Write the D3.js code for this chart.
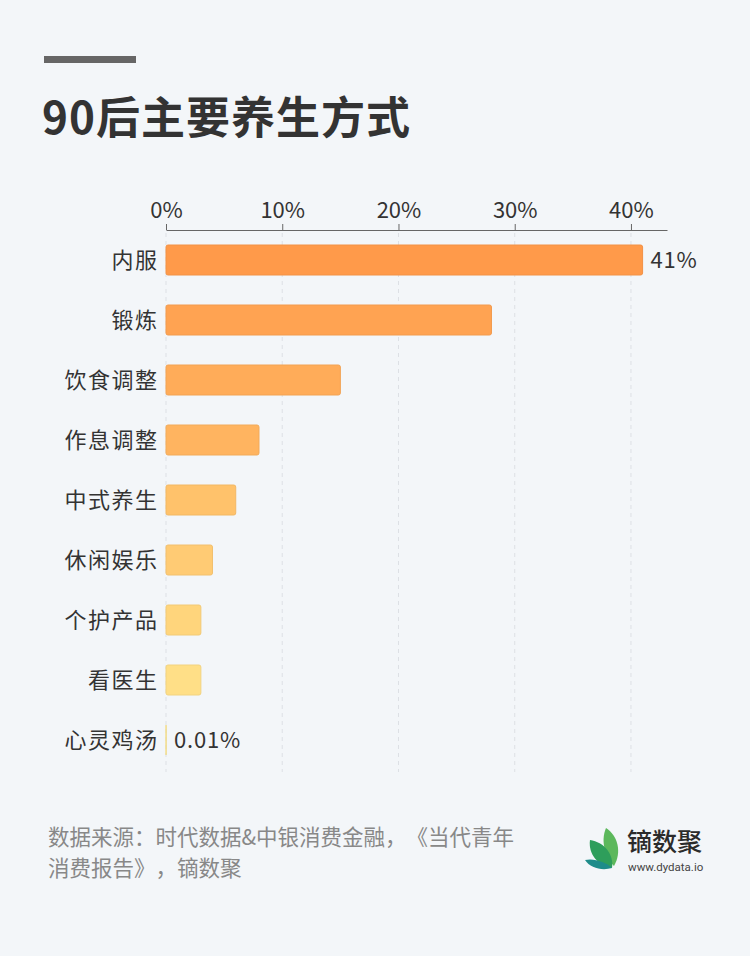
<!DOCTYPE html>
<html><head><meta charset="utf-8">
<script src="https://cdn.jsdelivr.net/npm/d3@7"></script>
<style>
html,body{margin:0;padding:0;background:#F3F6F9;}
svg{display:block;font-family:"Noto Sans CJK SC","Noto Sans",sans-serif;text-spacing-trim:space-all;}
</style></head>
<body>
<svg id="chart" width="750" height="956"></svg>
<script>
const categories = ["内服","锻炼","饮食调整","作息调整","中式养生","休闲娱乐","个护产品","看医生","心灵鸡汤"];
const values = [41, 28, 15, 8, 6, 4, 3, 3, 0.01];
const valueLabels = ["41%", "", "", "", "", "", "", "", "0.01%"];
const tickValues = [0, 10, 20, 30, 40];
const barColors = ["#FF9A4A","#FFA352","#FFAC59","#FFB460","#FFC26B","#FFCB74","#FFD57C","#FFDF87","#FFE890"];
const title = "90后主要养生方式";
const sourceLines = ["数据来源：时代数据&中银消费金融，《当代青年","消费报告》，镝数聚"];

const svg = d3.select("#chart");
svg.append("rect").attr("width",750).attr("height",956).attr("fill","#F3F6F9");

svg.append("rect").attr("x",44).attr("y",56).attr("width",92).attr("height",7).attr("fill","#666666");
svg.append("text").attr("x",42).attr("y",134).attr("font-size",44).attr("font-weight","bold")
  .attr("letter-spacing",1).attr("fill","#333333").text(title);

const x = d3.scaleLinear().domain([0, 43.1]).range([166, 667]);
const y = d3.scaleBand().domain(categories).range([230, 770]).paddingInner(0.5).paddingOuter(0.25);

// grid
svg.append("g").selectAll("line").data(tickValues).join("line")
  .attr("x1", d => x(d)).attr("x2", d => x(d))
  .attr("y1", 233).attr("y2", 772)
  .attr("stroke", "#DDE0E5").attr("stroke-width", 1).attr("stroke-dasharray", "4,4");

// axis
const axis = svg.append("g").attr("transform","translate(0,230)")
  .call(d3.axisTop(x).tickValues(tickValues).tickFormat(d => d + "%").tickSize(6).tickSizeOuter(0).tickPadding(6));
axis.select(".domain").attr("stroke","#666666");
axis.selectAll(".tick line").attr("stroke","#666666");
axis.selectAll(".tick text").attr("font-size",22).attr("fill","#333333")
  .attr("font-family",'"Noto Sans CJK SC","Noto Sans",sans-serif');

// bars
svg.append("g").selectAll("rect").data(categories).join("rect")
  .attr("x", x(0)).attr("y", d => y(d))
  .attr("width", (d,i) => Math.max(0, x(values[i]) - x(0)))
  .attr("height", y.bandwidth())
  .attr("rx", 2).attr("ry", 2)
  .attr("fill", (d,i) => barColors[i])
  .attr("stroke", (d,i) => d3.color(barColors[i]).darker(0.15))
  .attr("stroke-width", 1);

// category labels
svg.append("g").selectAll("text").data(categories).join("text")
  .attr("x", 158.5).attr("y", d => y(d) + y.bandwidth()/2)
  .attr("dy","0.35em").attr("text-anchor","end")
  .attr("font-size",22).attr("letter-spacing",1.5).attr("fill","#333333").text(d => d);

// value labels
svg.append("g").selectAll("text").data(categories).join("text")
  .attr("x", (d,i) => x(values[i]) + 8).attr("y", d => y(d) + y.bandwidth()/2)
  .attr("dy","0.35em").attr("font-size",22).attr("letter-spacing",0.8).attr("fill","#333333")
  .text((d,i) => valueLabels[i]);

// source
svg.append("g").selectAll("text").data(sourceLines).join("text")
  .attr("x", 48).attr("y", (d,i) => 845 + i*31)
  .attr("font-size",21.5).attr("fill","#888888").text(d => d);

// logo
const logo = svg.append("g").attr("transform","translate(584,826)");
logo.append("path").attr("d","M22,2 C34,10 38,26 30,40 C22,32 16,16 22,2 Z").attr("fill","#5CB85C");
logo.append("path").attr("d","M6,14 C20,16 30,28 28,42 C14,40 4,28 6,14 Z").attr("fill","#2E9E5B");
logo.append("path").attr("d","M1,34 C10,32 22,36 28,42 C18,45 6,42 1,34 Z").attr("fill","#1E8C8A");
svg.append("text").attr("x",627).attr("y",851).attr("font-size",25).attr("fill","#2B2B2B")
  .attr("font-weight","500").text("镝数聚");
svg.append("text").attr("x",628).attr("y",871).attr("font-size",11.5).attr("fill","#444444")
  .attr("font-family","Roboto, sans-serif").text("www.dydata.io");
</script>
</body></html>
